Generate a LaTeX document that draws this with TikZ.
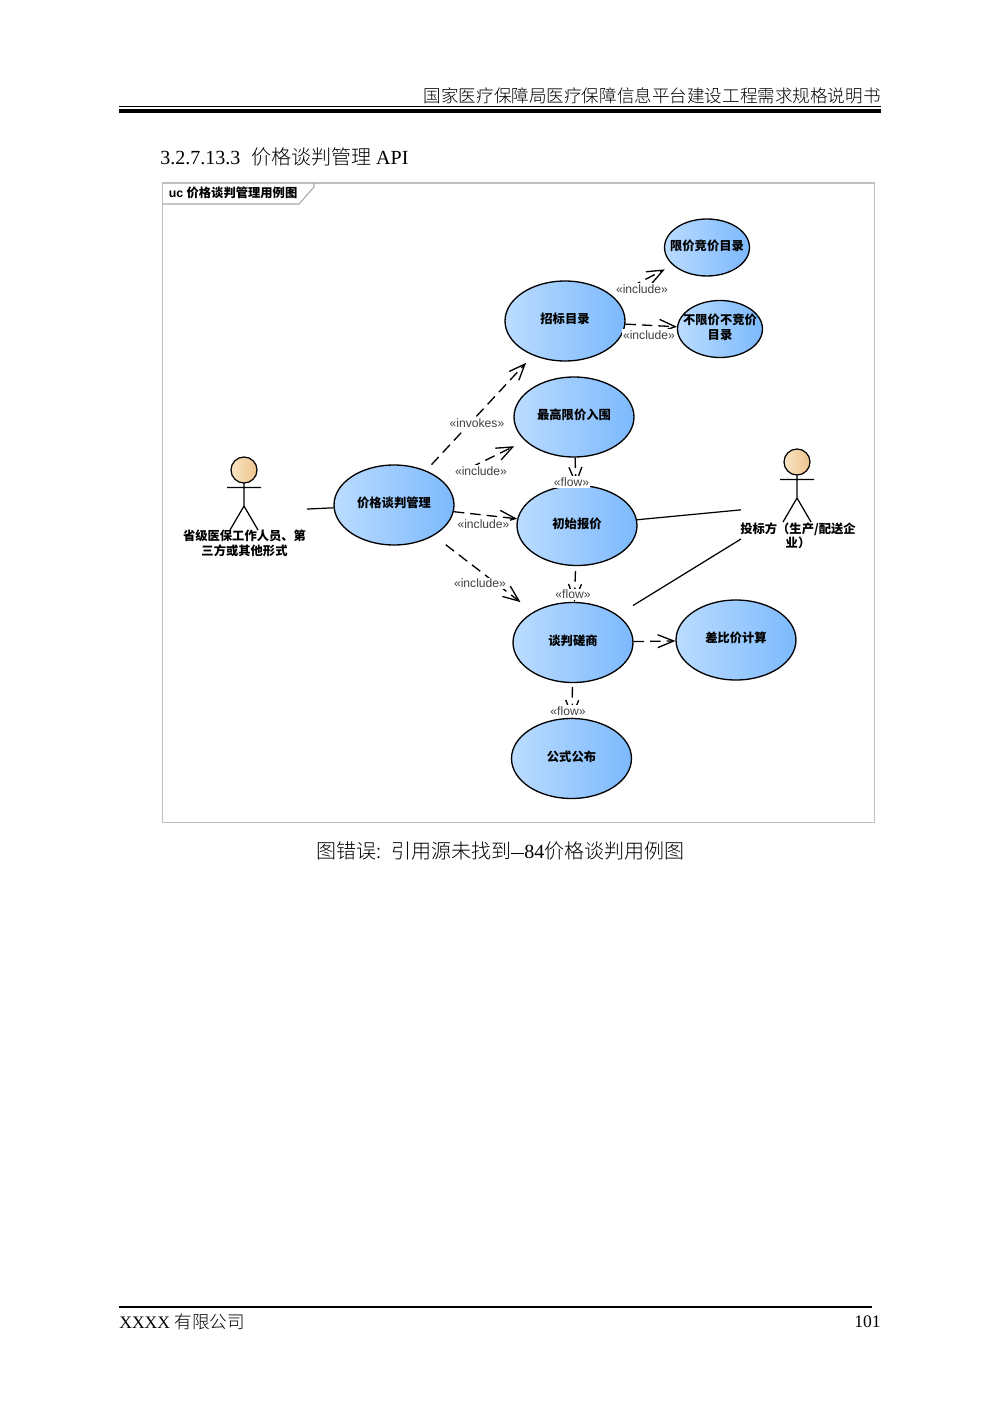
\documentclass[tikz,border=0pt]{standalone}
\usepackage{fontspec}
\usepackage{xcolor}
\setmainfont{Liberation Serif}
\setsansfont{Liberation Sans}
\newfontfamily\cjk{Noto Sans CJK SC}
\newfontfamily\cjklight{Noto Sans CJK SC Light}
\usetikzlibrary{arrows.meta,positioning,shapes.geometric}
\definecolor{uclight}{HTML}{BBDCFF}
\definecolor{ucdark}{HTML}{7CB9FD}
\definecolor{headlight}{HTML}{F9E4C4}
\definecolor{headdark}{HTML}{EDC48C}

\begin{document}
\begin{tikzpicture}[
  x=0.02cm, y=-0.02cm,
  uc/.style={ellipse, draw, line width=0.75pt, inner sep=0pt, align=center, text depth=2.8pt, minimum width=2.4cm, minimum height=1.6cm, left color=uclight, right color=ucdark, font=\cjk\bfseries\fontsize{7}{8.2}\selectfont},
  ucsmall/.style={uc, inner xsep=-5mm, inner ysep=-2mm, minimum width=1.7cm, minimum height=1.14cm},
  actorbox/.style={rectangle, inner sep=0pt, outer sep=0pt, minimum height=2cm},
  actorname/.style={align=center, inner sep=0pt, font=\cjk\bfseries\fontsize{7}{8.2}\selectfont},
  stereo/.style={fill=white, inner xsep=0.5pt, inner ysep=0.8pt, text=black!75, font=\sffamily\fontsize{6.9}{8}\selectfont},
  dep/.style={-{Straight Barb[length=3.2mm, width=2.6mm]}, dash pattern=on 2.1mm off 1.2mm, line width=0.75pt},
  assoc/.style={line width=0.7pt},
  actorman/.pic={
    \draw[line width=0.7pt, left color=headlight, right color=headdark] (0,-42) circle[radius=13];
    \draw[line width=0.7pt] (-17,-24.5) -- (17,-24.5) (0,-29) -- (0,-6) (-14,18) -- (0,-6) -- (14,18);
  }
]
\useasboundingbox (0,0) rectangle (1000,1415);

% page furniture
\node[anchor=east, inner sep=0pt, font=\cjklight\fontsize{10}{12}\selectfont] (running) at (881,96) {国家医疗保障局医疗保障信息平台建设工程需求规格说明书};
\fill (119,106.5) rectangle (881,107.5);
\fill (119,109.5) rectangle (881,113);
\node[anchor=west, inner sep=0pt, font=\fontsize{11.4}{13}\selectfont] (section) at (160,156.5) {3.2.7.13.3\hspace{6pt}{\cjklight 价格谈判管理} API};
\node[inner sep=0pt, font=\fontsize{11.4}{13}\selectfont] (caption) at (500.5,851) {{\cjklight 图错误:\hspace{5.5pt}引用源未找到}\rule[2.8pt]{7.5pt}{0.4pt}84{\cjklight 价格谈判用例图}};
\fill (119,1305.5) rectangle (872,1308);
\node[anchor=west, inner sep=0pt, font=\fontsize{10}{12}\selectfont] (company) at (119,1322) {XXXX {\cjklight 有限公司}};
\node[anchor=east, inner sep=0pt, font=\fontsize{10}{12}\selectfont] (pageno) at (881,1322) {101};

% frame
\draw[black!25, line width=0.6pt] (162.5,183) rectangle (874.5,822.5);
\draw[black!35, line width=0.6pt] (162.5,204) -- (299,204) -- (314,187) -- (314,183);
\node[anchor=west, inner sep=0pt, font=\sffamily\bfseries\fontsize{7}{8}\selectfont] (frametag) at (168.5,193) {uc {\cjk 价格谈判管理用例图}};

% use cases
\node[uc] (manage) at (394,505) {价格谈判管理};
\node[uc] (bidlist) at (565,321) {招标目录};
\node[uc] (ceiling) at (574,417) {最高限价入围};
\node[uc] (firstquote) at (577,525.5) {初始报价};
\node[uc] (negotiate) at (573,642.5) {谈判磋商};
\node[uc] (publish) at (571.5,758.5) {公式公布};
\node[uc] (diffcalc) at (736,640) {差比价计算};
\node[ucsmall] (limitlist) at (707,247.5) {限价竞价目录};
\node[ucsmall] (freelist) at (720,329) {不限价不竞价\\目录};

% actors
\node[actorbox, minimum width=2.52cm] (buyer) at (244,512) {};
\pic at (244,512) {actorman};
\node[actorname] (buyername) at (244.5,543.5) {省级医保工作人员、第\\三方或其他形式};
\node[actorbox, minimum width=2.24cm] (bidder) at (797,504.5) {};
\pic at (797,504) {actorman};
\node[actorname] (biddername) at (798,536) {投标方（生产/配送企\\业）};

% connectors
\draw[assoc] (buyer) -- (manage);
\draw[assoc] (firstquote) -- (bidder);
\draw[assoc, shorten <=3.6mm] (negotiate) -- (bidder);
\draw[dep, shorten <=1.6mm, shorten >=2mm] (manage) -- (bidlist);
\draw[dep, shorten <=2.8mm, shorten >=2.4mm] (manage) -- (ceiling);
\draw[dep] (manage) -- (firstquote);
\draw[dep, shorten <=3mm, shorten >=3.2mm] (manage) -- (negotiate);
\draw[dep, shorten <=4mm, shorten >=1.8mm] (bidlist) -- (limitlist);
\draw[dep] (bidlist) -- (freelist);
\draw[dep] (ceiling) -- (firstquote);
\draw[dep, shorten <=1mm] (firstquote) -- (negotiate);
\draw[dep, shorten <=0.8mm] (negotiate) -- (publish);
\draw[dep] (negotiate) -- (diffcalc);

% stereotypes
\node[stereo] (invokes) at (477,423) {«invokes»};
\node[stereo] (inclceiling) at (481,471) {«include»};
\node[stereo] (inclquote) at (483.5,524.5) {«include»};
\node[stereo] (inclnego) at (480,583.5) {«include»};
\node[stereo] (incllimit) at (642,289) {«include»};
\node[stereo] (inclfree) at (649,335) {«include»};
\node[stereo] (flowquote) at (571.5,482) {«flow»};
\node[stereo] (flownego) at (573,594.5) {«flow»};
\node[stereo] (flowpub) at (568,711) {«flow»};
\end{tikzpicture}
\end{document}
